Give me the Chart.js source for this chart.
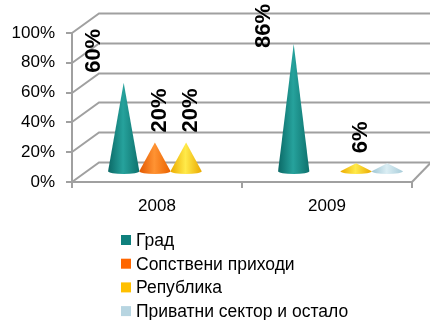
<!DOCTYPE html>
<html>
<head>
<meta charset="utf-8">
<script src="https://cdn.jsdelivr.net/npm/chart.js@4/dist/chart.umd.min.js"></script>
<style>
  html, body { margin: 0; padding: 0; background: #fff; }
  #chart { display: block; }
</style>
</head>
<body>
<canvas id="chart" width="430" height="320"></canvas>
<script>
const years = ['2008', '2009'];
const seriesNames = ['Град', 'Сопствени приходи', 'Република', 'Приватни сектор и остало'];
const grad = [60, 86];
const sopstveni = [20, 0];
const republika = [20, 6];
const privatni = [0, 6];
const yTicks = [0, 20, 40, 60, 80, 100];

const FONT = '"Liberation Sans", Arial, sans-serif';
const AXIS_GREY = '#a0a0a0';

// depth of the 3d box: back wall is shifted right and up
const DEPTH_X = 27;
const DEPTH_Y = -19.5;

// cone shading: left edge, highlight, right edge
const shades = [
    ['#0b6966', '#26a29c', '#0e716d'],
    ['#e35800', '#ff9333', '#ea6200'],
    ['#ecab00', '#ffea4a', '#eaa900'],
    ['#9fc6d4', '#dbeef4', '#a8ccd9']
];
const legendColors = ['#0f807d', '#ff6600', '#ffc000', '#b7d5e1'];

// bold % labels sit beside the tall teal cones, just above the small ones
const labelShift = [-30, 5, 5, 5];
const showLabel = [true, true, true, false];

const walls = {
    id: 'walls',
    beforeDatasetsDraw(chart) {
        const {ctx, chartArea: a, scales: {y}} = chart;
        ctx.save();
        ctx.strokeStyle = AXIS_GREY;
        ctx.lineWidth = 2;
        yTicks.forEach(v => {
            const py = Math.round(y.getPixelForValue(v));
            ctx.beginPath();
            ctx.moveTo(a.left, py);
            ctx.lineTo(a.left + DEPTH_X, py + DEPTH_Y);
            ctx.lineTo(chart.width, py + DEPTH_Y);
            ctx.stroke();
        });
        // right edge of the floor
        ctx.beginPath();
        ctx.moveTo(a.right, a.bottom);
        ctx.lineTo(a.right + 19, a.bottom + DEPTH_Y);
        ctx.stroke();
        ctx.restore();
    }
};

function drawCone(ctx, cx, tipY, baseY, r, cols) {
    const ry = r * 0.17;
    const g = ctx.createLinearGradient(cx - r, 0, cx + r, 0);
    g.addColorStop(0, cols[0]);
    g.addColorStop(0.48, cols[1]);
    g.addColorStop(1, cols[2]);
    ctx.beginPath();
    ctx.moveTo(cx, tipY);
    ctx.lineTo(cx - r, baseY);
    ctx.ellipse(cx, baseY, r, ry, 0, Math.PI, 0, true);
    ctx.closePath();
    ctx.fillStyle = g;
    ctx.fill();
}

const cones = {
    id: 'cones',
    afterDatasetsDraw(chart) {
        const ctx = chart.ctx;
        ctx.save();
        chart.data.datasets.forEach((ds, i) => {
            chart.getDatasetMeta(i).data.forEach((bar, j) => {
                if (!ds.data[j]) return;
                const cx = bar.x + DEPTH_X / 2;
                drawCone(ctx, cx, bar.y + DEPTH_Y / 2, bar.base + DEPTH_Y / 2, bar.width / 2 + 0.5, shades[i]);
            });
        });
        // value labels, rotated
        ctx.font = 'bold 22px ' + FONT;
        ctx.fillStyle = '#000';
        ctx.textAlign = 'left';
        ctx.textBaseline = 'middle';
        chart.data.datasets.forEach((ds, i) => {
            if (!showLabel[i]) return;
            chart.getDatasetMeta(i).data.forEach((bar, j) => {
                const v = ds.data[j];
                if (!v) return;
                const text = v + '%';
                const len = ctx.measureText(text).width;
                const cx = bar.x + DEPTH_X / 2 + labelShift[i];
                let bottom = bar.y + DEPTH_Y / 2 - 10;
                if (bottom - len < 4) bottom = 4 + len;
                ctx.save();
                ctx.translate(cx, bottom);
                ctx.rotate(-Math.PI / 2);
                ctx.fillText(text, 0, 0);
                ctx.restore();
            });
        });
        ctx.restore();
    }
};

const legendList = {
    id: 'legendList',
    afterDraw(chart) {
        const ctx = chart.ctx;
        ctx.save();
        ctx.font = '17.5px ' + FONT;
        ctx.textBaseline = 'middle';
        ctx.textAlign = 'left';
        chart.data.datasets.forEach((ds, i) => {
            const cy = 240 + i * 23.7;
            ctx.fillStyle = legendColors[i];
            ctx.fillRect(121, cy - 5, 10, 10);
            ctx.fillStyle = '#000';
            ctx.fillText(ds.label, 136, cy + 1);
        });
        ctx.restore();
    }
};

const seriesValues = [grad, sopstveni, republika, privatni];

new Chart(document.getElementById('chart'), {
    type: 'bar',
    data: {
        labels: years,
        datasets: seriesNames.map((name, i) => ({
            label: name,
            data: seriesValues[i],
            backgroundColor: 'rgba(0,0,0,0)',
            categoryPercentage: 0.734,
            barPercentage: 0.97
        }))
    },
    options: {
        responsive: false,
        animation: false,
        events: [],
        layout: {padding: {top: 33, right: 18, left: 0, bottom: 0}},
        plugins: {
            legend: {display: false},
            tooltip: {enabled: false}
        },
        scales: {
            x: {
                afterFit: s => { s.height = 138; },
                grid: {
                    offset: true,
                    drawOnChartArea: false,
                    drawTicks: true,
                    tickLength: 6,
                    color: AXIS_GREY,
                    lineWidth: 2
                },
                border: {display: true, color: AXIS_GREY, width: 2},
                ticks: {
                    color: '#000',
                    font: {family: FONT, size: 17},
                    padding: 8
                }
            },
            y: {
                min: 0,
                max: 100,
                afterFit: s => { s.width = 72; },
                afterBuildTicks: s => { s.ticks = yTicks.map(v => ({value: v})); },
                grid: {
                    drawOnChartArea: false,
                    drawTicks: true,
                    tickLength: 6,
                    color: AXIS_GREY,
                    lineWidth: 2
                },
                border: {display: true, color: AXIS_GREY, width: 2},
                ticks: {
                    color: '#000',
                    font: {family: FONT, size: 17},
                    padding: 11,
                    callback: v => v + '%'
                }
            }
        }
    },
    plugins: [walls, cones, legendList]
});
</script>
</body>
</html>
